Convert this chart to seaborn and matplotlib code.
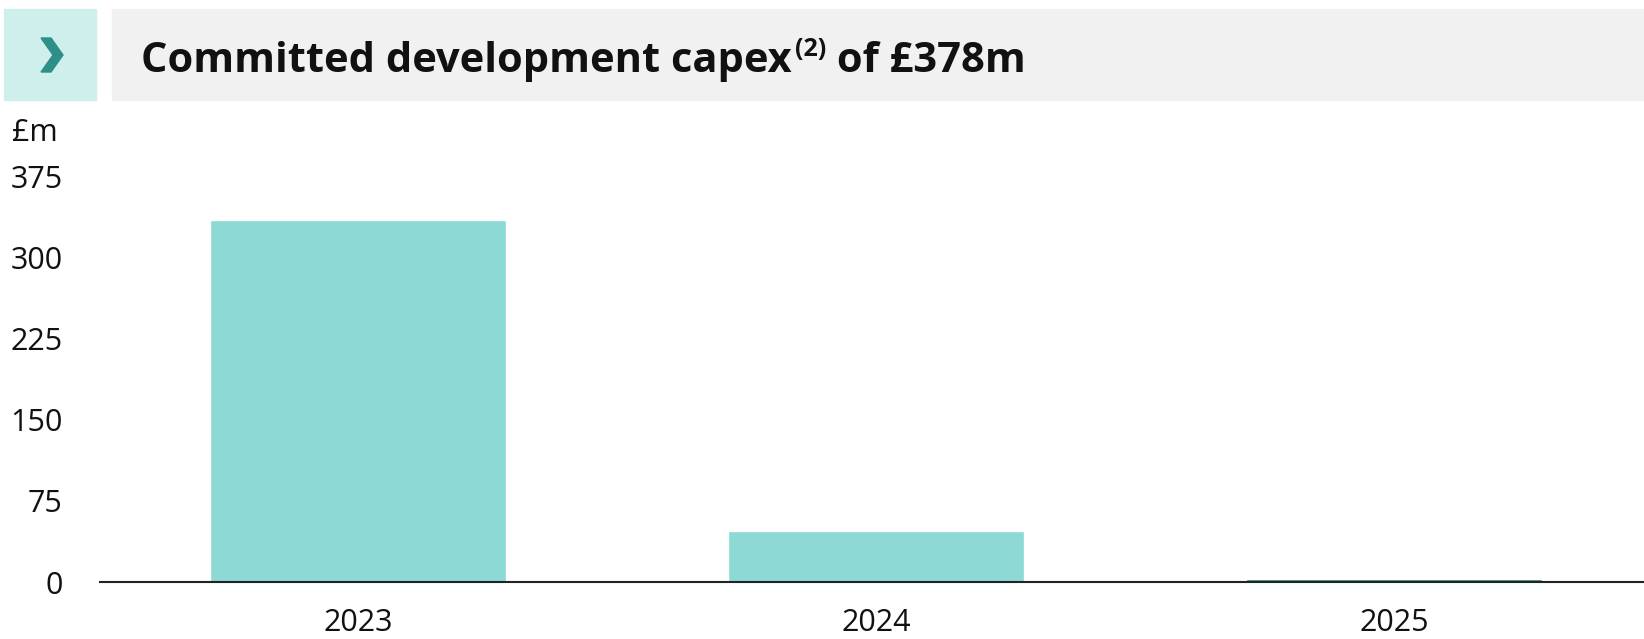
import matplotlib
matplotlib.use("Agg")
import matplotlib.pyplot as plt
from matplotlib.patches import Rectangle, Polygon
import seaborn as sns
import pandas as pd

# Committed development capex by year (£m)
years = ["2023", "2024", "2025"]
capex = [334, 47, 3]
bar_colors = ["#8CD9D6", "#8CD9D6", "#2A8682"]
y_ticks = [0, 75, 150, 225, 300, 375]

title_main = "Committed development capex"
title_note = "(2)"
title_tail = " of £378m"
unit_label = "£m"

W, H = 1644, 639
sns.set_theme(style="white")
plt.rcParams["font.family"] = ["Open Sans", "DejaVu Sans"]
plt.rcParams["text.color"] = "#111111"

fig = plt.figure(figsize=(W / 100, H / 100), dpi=100)


def fx(px):
    return px / W


def fy(py):
    return 1 - py / H


# Header: chevron tile and grey title band
fig.patches.append(Rectangle((fx(4), fy(100)), fx(92), (100 - 9) / H,
                             transform=fig.transFigure, color="#CFEFED", zorder=0))
fig.patches.append(Rectangle((fx(112), fy(100)), fx(W - 112), (100 - 9) / H,
                             transform=fig.transFigure, color="#F1F1F1", zorder=0))
chev = [(41, 38), (51, 38), (63, 55), (51, 72), (41, 72), (53, 55)]
fig.patches.append(Polygon([(fx(a), fy(b)) for a, b in chev], closed=True,
                           transform=fig.transFigure, color="#2E8F89", zorder=1))

# Title with superscript note marker
renderer = fig.canvas.get_renderer()
t1 = fig.text(fx(141), fy(72), title_main, fontsize=30, fontweight="bold",
              va="baseline", ha="left")
bb = t1.get_window_extent(renderer)
t2 = fig.text(bb.x1 / W + fx(3), fy(56), title_note, fontsize=18, fontweight="bold",
              va="baseline", ha="left")
bb2 = t2.get_window_extent(renderer)
fig.text(bb2.x1 / W, fy(72), title_tail, fontsize=30, fontweight="bold",
         va="baseline", ha="left")

# Bar chart
ax = fig.add_axes([fx(100), 57 / H, fx(W - 100), 406 / H])
df = pd.DataFrame({"year": years, "capex": capex})
sns.barplot(data=df, x="year", y="capex", hue="year", palette=bar_colors,
            width=0.571, saturation=1, legend=False, ax=ax)
ax.set_xlim(-0.498, 2.483)
ax.set_ylim(0, 375)
ax.set_yticks(y_ticks)
ax.set_xlabel("")
ax.set_ylabel("")
for s in ["top", "right", "left"]:
    ax.spines[s].set_visible(False)
ax.spines["bottom"].set_color("#222222")
ax.spines["bottom"].set_linewidth(1.5)
ax.tick_params(axis="y", length=0, pad=27, labelsize=22, labelcolor="#111111")
ax.tick_params(axis="x", length=0, pad=19, labelsize=22, labelcolor="#111111")
ax.set_facecolor("white")

fig.text(fx(12), fy(133), unit_label, fontsize=22, va="center", ha="left")

fig.savefig("out.png", dpi=100, facecolor="white")
